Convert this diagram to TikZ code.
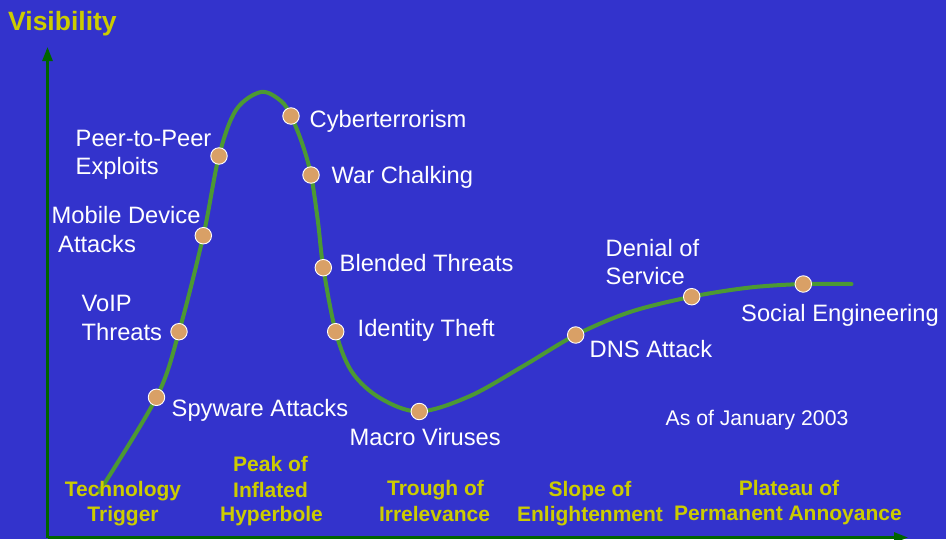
\documentclass[tikz,border=0pt]{standalone}
\usepackage{fontspec}
\setmainfont{Liberation Sans}
\usetikzlibrary{arrows.meta}
\definecolor{bgblue}{RGB}{51,51,204}
\definecolor{hypeyellow}{RGB}{204,204,0}
\definecolor{curvegreen}{RGB}{76,153,51}
\definecolor{axisgreen}{RGB}{0,100,0}
\definecolor{dotfill}{RGB}{217,160,102}
\tikzset{
  axisline/.style={draw=axisgreen, line width=2.6pt, -{Triangle[length=14pt,width=10pt]}},
  hypecurve/.style={draw=curvegreen, line width=4pt, line cap=round},
  dotnode/.style={circle, fill=dotfill, draw=white, line width=0.9pt, minimum size=16.5pt, inner sep=0pt},
  lbl/.style={text=white, inner sep=0pt, anchor=base west, font=\fontsize{23.7}{28}\selectfont},
  phase/.style={text=hypeyellow, inner sep=0pt, anchor=base, font=\bfseries\fontsize{21}{26}\selectfont},
  note/.style={text=white, inner sep=0pt, anchor=base west, font=\fontsize{21.2}{25}\selectfont},
  axtitle/.style={text=hypeyellow, inner sep=0pt, anchor=base west, font=\bfseries\fontsize{26.5}{30}\selectfont}
}
\begin{document}
\begin{tikzpicture}[x=1pt,y=-1pt]
\useasboundingbox (0,0) rectangle (946,539);
\fill[bgblue] (0,0) rectangle (946,539);

% axes
\coordinate (origin) at (47.5,537.5);
\coordinate (ytip) at (47.5,47);
\coordinate (xtip) at (908,537.5);
\draw[axisline] (origin) -- (ytip);
\draw[axisline] (origin) -- (xtip);

% curve points
\coordinate (c0) at (99,492);
\coordinate (pspy) at (156.5,397.3);
\coordinate (pvoip) at (179,331.7);
\coordinate (pmob) at (203.3,235.7);
\coordinate (ppeer) at (219,156);
\coordinate (c1) at (236,110);
\coordinate (c2) at (261,92);
\coordinate (c3) at (281,101);
\coordinate (pcyb) at (291,116);
\coordinate (c4) at (302,143);
\coordinate (pwar) at (311,175);
\coordinate (c5) at (318,222);
\coordinate (pblend) at (323.3,267.7);
\coordinate (pid) at (335.7,331.7);
\coordinate (c6) at (352,372);
\coordinate (c7) at (380,398);
\coordinate (pmac) at (419.3,411.5);
\coordinate (c8) at (470,396);
\coordinate (c9) at (525,365);
\coordinate (pdns) at (575.7,335);
\coordinate (c10) at (630,312);
\coordinate (pdos) at (691.7,296.7);
\coordinate (c11) at (750,287.5);
\coordinate (psoc) at (803.3,284);
\coordinate (cend) at (851.5,284);

\draw[hypecurve] plot[smooth, tension=0.55] coordinates {(c0) (pspy) (pvoip) (pmob) (ppeer) (c1) (c2) (c3) (pcyb) (c4) (pwar) (c5) (pblend) (pid) (c6) (c7) (pmac) (c8) (c9) (pdns) (c10) (pdos) (c11) (psoc) (cend)};

% dots
\node[dotnode] (spy) at (pspy) {};
\node[dotnode] (voip) at (pvoip) {};
\node[dotnode] (mob) at (pmob) {};
\node[dotnode] (peer) at (ppeer) {};
\node[dotnode] (cyb) at (pcyb) {};
\node[dotnode] (war) at (pwar) {};
\node[dotnode] (blend) at (pblend) {};
\node[dotnode] (ident) at (pid) {};
\node[dotnode] (mac) at (pmac) {};
\node[dotnode] (dns) at (pdns) {};
\node[dotnode] (dos) at (pdos) {};
\node[dotnode] (soc) at (psoc) {};

% labels
\node[axtitle] (vis) at (8,30) {Visibility};
\node[lbl] (lpeer1) at (75.5,146) {Peer-to-Peer};
\node[lbl] (lpeer2) at (75.5,174.5) {Exploits};
\node[lbl] (lmob1) at (51.5,223.3) {Mobile Device};
\node[lbl] (lmob2) at (58,252.3) {Attacks};
\node[lbl] (lvoip1) at (81.5,311.7) {VoIP};
\node[lbl] (lvoip2) at (81.5,340.7) {Threats};
\node[lbl] (lspy) at (171.5,416) {Spyware Attacks};
\node[lbl] (lcyb) at (309.5,127.5) {Cyberterrorism};
\node[lbl] (lwar) at (331.5,183.3) {War Chalking};
\node[lbl] (lblend) at (339.5,271.7) {Blended Threats};
\node[lbl] (lid) at (357.5,336) {Identity Theft};
\node[lbl] (lmac) at (349.5,445) {Macro Viruses};
\node[lbl] (ldns) at (589.5,357.7) {DNS Attack};
\node[lbl] (ldos1) at (605.5,256) {Denial of};
\node[lbl] (ldos2) at (605.5,284.5) {Service};
\node[lbl] (lsoc) at (741,321.7) {Social Engineering};
\node[note] (asof) at (665.5,425.7) {As of January 2003};

% phases
\node[phase] (ph1a) at (123,496) {Technology};
\node[phase] (ph1b) at (123,521.7) {Trigger};
\node[phase] (ph2a) at (270.5,471.5) {Peak of};
\node[phase] (ph2b) at (270.5,497.3) {Inflated};
\node[phase] (ph2c) at (271.5,521.7) {Hyperbole};
\node[phase] (ph3a) at (435.5,495.5) {Trough of};
\node[phase] (ph3b) at (434.5,521.2) {Irrelevance};
\node[phase] (ph4a) at (590,496.5) {Slope of};
\node[phase] (ph4b) at (590,521.7) {Enlightenment};
\node[phase] (ph5a) at (789,495.5) {Plateau of};
\node[phase] (ph5b) at (788,520.5) {Permanent Annoyance};
\end{tikzpicture}
\end{document}
